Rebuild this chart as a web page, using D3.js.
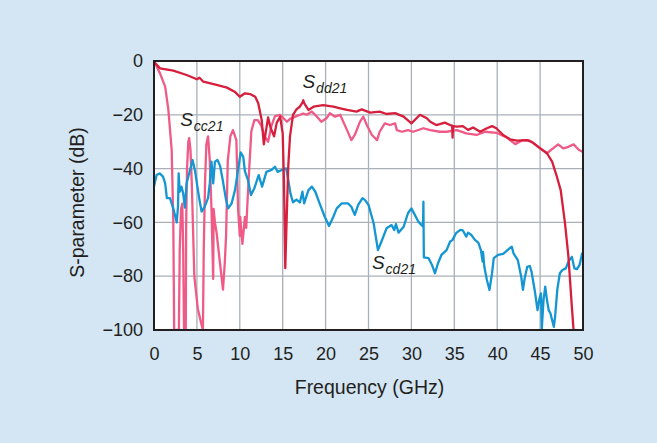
<!DOCTYPE html>
<html>
<head>
<meta charset="utf-8">
<script src="https://cdn.jsdelivr.net/npm/d3@7"></script>
<style>
  html, body { margin: 0; padding: 0; background: #d4e5f4; }
  svg { display: block; font-family: "Liberation Sans", Arial, Helvetica, sans-serif; }
</style>
</head>
<body>
<svg id="chart" width="657" height="443"></svg>
<script>
// ---- Data (frequency in GHz, value in dB) ----
const xTicks = [0, 5, 10, 15, 20, 25, 30, 35, 40, 45, 50];
const yTicks = [0, -20, -40, -60, -80, -100];

const sdd21Freq = [0,0.7,2.25,3.8,5.0,5.3,5.75,7.3,8.5,9.4,10.0,10.6,11.2,11.8,12.15,12.55,12.8,13.05,13.3,13.6,14.0,14.3,14.7,15.0,15.15,15.3,15.45,15.65,15.85,16.2,16.6,17.0,17.3,17.4,17.5,18.0,18.6,19.7,20.9,21.7,22.5,23.6,24.2,25.2,26.3,27.1,28.1,29.1,30.0,31.0,31.8,32.2,32.9,33.3,33.9,34.5,34.75,34.8,34.85,35.3,36.0,36.6,37.2,38.0,38.8,39.4,39.9,40.7,41.5,42.3,43.5,44.2,45.0,45.8,46.4,46.9,47.4,47.9,48.3,48.7,48.9,49.1];
const sdd21Val  = [-0.3,-2.7,-3.6,-5.2,-6.8,-6.2,-7.7,-8.9,-9.9,-11.4,-13.3,-12,-12.3,-13.3,-15.7,-21.9,-31,-26,-21,-25,-28,-23,-20.7,-27,-45,-77,-60,-39,-28,-20,-18,-17,-15.5,-14.6,-15.7,-18.2,-17,-16.4,-17,-17.6,-18.2,-18.8,-18,-19.2,-18.8,-19.7,-19.4,-20.7,-23.2,-20,-21.3,-22.6,-23.8,-23.5,-22.9,-23.8,-24,-28.5,-24.2,-24.4,-24.2,-25.6,-24.7,-26.3,-25,-24.2,-25,-27.5,-29.1,-29.6,-29.4,-30.4,-32.5,-34.3,-37.4,-42.4,-48,-60.3,-72.7,-91.3,-100,-106];

const scc21Freq = [0,0.7,1.3,1.67,2.06,2.25,2.35,2.9,3.0,3.15,3.3,3.4,3.5,3.7,3.75,3.85,4.0,4.1,4.25,4.4,4.7,5.1,5.5,5.7,5.8,5.95,6.1,6.3,6.5,6.7,6.9,6.95,7.1,7.3,7.65,8.04,8.25,8.4,8.6,8.9,9.2,9.6,9.8,10.0,10.05,10.3,10.6,10.75,10.95,11.15,11.35,11.7,12.1,12.5,12.9,13.3,13.7,14.1,14.7,15.5,15.85,16.6,17.4,17.8,18.4,19.0,19.5,20.1,20.5,21.1,21.7,22.5,23.0,23.4,24.0,24.4,24.8,25.4,26.0,26.3,26.9,27.5,28.1,28.3,28.9,29.6,30.2,31.4,32.2,33.3,34.1,35.3,36.4,37.6,38.6,39.9,41.1,42.1,43.0,43.8,44.8,45.8,46.5,47.1,47.7,48.3,48.9,49.5,50];
const scc21Val  = [0,-4.6,-9.5,-18,-33,-60,-100,-100,-70,-55,-53,-70,-100,-100,-60,-40,-30,-28.7,-33,-45,-80,-92,-97.5,-100,-70,-45,-31,-28,-36.8,-55,-81,-55,-60,-64,-74,-85,-75,-65,-37,-28,-25.7,-29.4,-55,-65,-58,-68,-58,-62,-49,-37,-26,-22,-22,-24,-28,-30,-24,-20.5,-20,-22.6,-21.5,-20.5,-19.5,-20,-18.8,-20.7,-22.6,-21.3,-19.4,-20.7,-20,-25.7,-29.4,-27.5,-22.6,-20.7,-23.8,-27.5,-29.4,-26.3,-23.2,-23.8,-23.2,-25.7,-26.3,-25.7,-26.3,-25,-25.7,-26.3,-26.3,-25.7,-26.9,-27.5,-26.3,-26.7,-28.4,-30.9,-29.4,-29.6,-31.9,-34.3,-32.5,-31,-32.5,-31.9,-31,-33,-33.8];

const scd21Freq = [0,0.3,0.66,1.05,1.3,1.5,1.86,2.25,2.65,2.8,2.87,3.0,3.2,3.4,3.6,3.8,4.16,4.5,4.8,5.0,5.3,5.55,5.9,6.3,6.5,6.7,6.9,7.1,7.4,7.7,8.0,8.4,8.65,9.05,9.44,9.8,10.1,10.4,10.6,10.95,11.3,11.7,12.2,12.6,13.1,13.7,14.1,14.4,14.9,15.4,15.65,15.9,16.2,16.6,17.0,17.3,17.5,18.0,18.4,18.8,19.3,19.9,20.4,20.9,21.3,21.9,22.6,23.0,23.4,23.8,24.3,24.6,25.0,25.6,26.1,26.5,27.1,27.7,28.0,28.2,28.5,29.1,29.6,30.0,30.4,30.8,31.2,31.35,31.4,31.45,32.0,32.4,32.75,33.1,33.5,34.1,34.5,34.8,35.2,35.7,36.0,36.4,36.6,37.0,37.4,37.8,38.1,38.3,38.35,38.5,38.8,39.1,39.4,39.6,40.1,40.7,41.3,41.7,41.9,42.4,42.8,43.0,43.2,43.5,43.8,44.0,44.4,44.7,44.9,45.1,45.2,45.4,45.6,45.8,46.0,46.2,46.6,46.75,47.0,47.3,47.6,48.0,48.3,48.7,49.0,49.3,49.6,49.9];
const scd21Val  = [-46.7,-42.4,-41.8,-43,-45.5,-51,-51,-54.8,-60,-54,-41.8,-48.6,-46.7,-49.2,-54.5,-45.5,-41,-36.8,-41.2,-45.5,-51.7,-56,-54.2,-51,-45.5,-37.4,-45.5,-37.4,-36.8,-39,-44,-51.7,-54.8,-52.9,-48,-40.5,-34,-35.6,-41,-44.2,-49.8,-47.3,-42.4,-46.7,-41.2,-40.5,-39.3,-41.2,-40.5,-39.9,-44.2,-49.2,-52.5,-51.5,-52.6,-48.6,-52.9,-48,-46.7,-48.6,-52.9,-57.9,-61.3,-57.9,-54.8,-52.9,-52.9,-54.2,-57.2,-53.5,-51,-51.7,-53.5,-60.3,-70.3,-67.2,-62.2,-61,-62.8,-60.6,-63.8,-61.6,-56.6,-54.8,-57.2,-59.7,-61,-61.5,-52.3,-73,-73.3,-75.8,-78.9,-75.2,-72.1,-70.3,-67.2,-66.5,-64,-62.8,-63,-65.3,-63.8,-64.7,-66.5,-67.5,-70.3,-74.6,-71,-76.5,-81.4,-85.1,-78.9,-73.3,-72.1,-71.7,-70,-69,-71.5,-74,-80.2,-85.1,-80.8,-76.5,-76.2,-78.3,-85.8,-92.6,-88.8,-86.4,-99.4,-88.8,-83.9,-88.8,-92.6,-93.8,-98.8,-95,-85.1,-78.9,-77.7,-77.1,-74.6,-72.8,-77.1,-77.4,-75.8,-71.5];

// ---- Layout ----
const svg = d3.select("#chart");
const W = 657, H = 443;
const plot = { left: 154, top: 61, right: 583, bottom: 330 };

const x = d3.scaleLinear().domain([0, 50]).range([plot.left, plot.right]);
const y = d3.scaleLinear().domain([-100, 0]).range([plot.bottom, plot.top]);

svg.append("rect").attr("width", W).attr("height", H).attr("fill", "#d4e5f4");
svg.append("rect")
  .attr("x", plot.left).attr("y", plot.top)
  .attr("width", plot.right - plot.left).attr("height", plot.bottom - plot.top)
  .attr("fill", "#ffffff");

// gridlines
const grid = svg.append("g").attr("stroke", "#a9b0b9").attr("stroke-width", 1.3);
grid.selectAll("line.vx").data(xTicks.slice(1, -1)).join("line")
  .attr("x1", d => x(d)).attr("x2", d => x(d))
  .attr("y1", plot.top).attr("y2", plot.bottom);
grid.selectAll("line.hy").data(yTicks.slice(1, -1)).join("line")
  .attr("x1", plot.left).attr("x2", plot.right)
  .attr("y1", d => y(d)).attr("y2", d => y(d));

// clip
svg.append("clipPath").attr("id", "clip").append("rect")
  .attr("x", plot.left).attr("y", plot.top)
  .attr("width", plot.right - plot.left).attr("height", plot.bottom - plot.top);

const line = d3.line().x(d => x(d[0])).y(d => y(d[1]));
const series = [
  { f: scc21Freq, v: scc21Val, color: "#ef5a87" },
  { f: scd21Freq, v: scd21Val, color: "#1496d3" },
  { f: sdd21Freq, v: sdd21Val, color: "#d61f3c" }
];
const lines = svg.append("g").attr("clip-path", "url(#clip)");
series.forEach(s => {
  lines.append("path")
    .attr("d", line(s.f.map((f, i) => [f, s.v[i]])))
    .attr("fill", "none")
    .attr("stroke", s.color)
    .attr("stroke-width", 2.3)
    .attr("stroke-linejoin", "round")
    .attr("stroke-linecap", "round");
});

// border
svg.append("rect")
  .attr("x", plot.left).attr("y", plot.top)
  .attr("width", plot.right - plot.left).attr("height", plot.bottom - plot.top)
  .attr("fill", "none").attr("stroke", "#231f20").attr("stroke-width", 2);

// axes
const fmt = d => (d < 0 ? "\u2212" + Math.abs(d) : String(d));
const xAxis = svg.append("g").attr("transform", `translate(0,${plot.bottom})`)
  .call(d3.axisBottom(x).tickValues(xTicks).tickSize(0).tickPadding(17).tickFormat(fmt));
const yAxis = svg.append("g").attr("transform", `translate(${plot.left},0)`)
  .call(d3.axisLeft(y).tickValues(yTicks).tickSize(0).tickPadding(11).tickFormat(fmt));
[xAxis, yAxis].forEach(a => {
  a.select(".domain").remove();
  a.selectAll("text").attr("font-size", 18).attr("fill", "#231f20")
    .attr("font-family", "'Liberation Sans', Arial, sans-serif");
});

// axis titles
svg.append("text")
  .attr("x", (plot.left + plot.right) / 2 + 1).attr("y", 394)
  .attr("text-anchor", "middle").attr("font-size", 19.5).attr("fill", "#231f20")
  .text("Frequency (GHz)");
svg.append("text")
  .attr("transform", `translate(84,${202.5}) rotate(-90)`)
  .attr("text-anchor", "middle").attr("font-size", 19.5).attr("fill", "#231f20")
  .text("S-parameter (dB)");

// series labels
const labels = [
  { name: "S", sub: "dd21", f: 17.3, v: -10.0 },
  { name: "S", sub: "cc21", f: 3.05, v: -24.3 },
  { name: "S", sub: "cd21", f: 25.4, v: -77.5 }
];
labels.forEach(l => {
  const t = svg.append("text")
    .attr("x", x(l.f)).attr("y", y(l.v))
    .attr("font-style", "italic").attr("fill", "#231f20");
  t.append("tspan").attr("font-size", 19).text(l.name);
  t.append("tspan").attr("font-size", 14).attr("dy", 5).attr("dx", 1).text(l.sub);
});
</script>
</body>
</html>
